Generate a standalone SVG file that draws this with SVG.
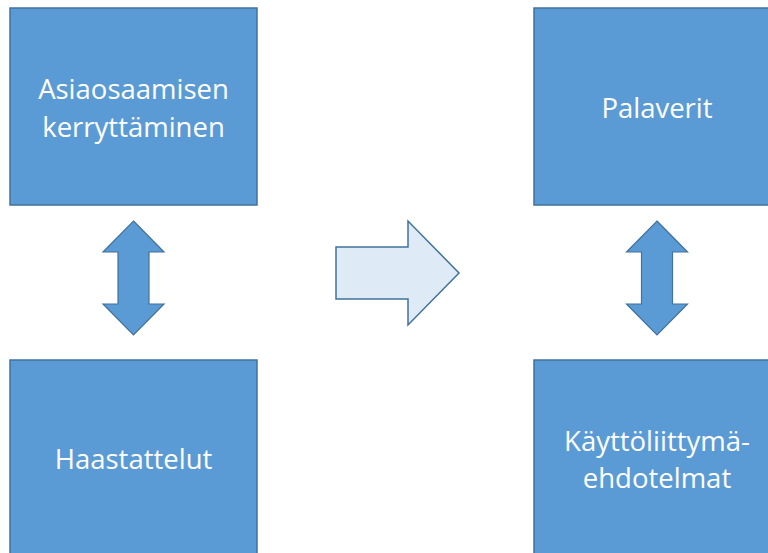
<svg xmlns="http://www.w3.org/2000/svg" width="768" height="553" viewBox="0 0 768 553">
<style>
.box{fill:#5B9BD5;stroke:#41719C;stroke-width:1.5}
.dbl{fill:#5B9BD5;stroke:#41719C;stroke-width:1.2}
.arr{fill:#DEEBF7;stroke:#41719C;stroke-width:1.5}
.t{font-family:"Open Sans","Liberation Sans",sans-serif;font-size:27.5px;fill:#fff;text-anchor:middle}
</style>
<rect width="768" height="553" fill="#fff"/>
<g id="asiaosaaminen">
<rect class="box" x="10" y="8" width="247" height="197"/>
<text class="t" x="133.5" y="99">Asiaosaamisen</text>
<text class="t" x="133.5" y="137">kerryttäminen</text>
</g>
<g id="haastattelut">
<rect class="box" x="10" y="360" width="247" height="200"/>
<text class="t" x="133.5" y="469">Haastattelut</text>
</g>
<g id="palaverit">
<rect class="box" x="534" y="8" width="247" height="197"/>
<text class="t" x="657" y="118">Palaverit</text>
</g>
<g id="kayttoliittyma">
<rect class="box" x="534" y="360" width="247" height="200"/>
<text class="t" x="657" y="451">Käyttöliittymä-</text>
<text class="t" x="657" y="488">ehdotelmat</text>
</g>
<g id="connectors">
<polygon class="dbl" points="133.5,221 164,252 149,252 149,304 164,304 133.5,335 103,304 118,304 118,252 103,252"/>
<polygon class="dbl" points="657,221 687.5,252 672.5,252 672.5,304 687.5,304 657,335 626.5,304 641.5,304 641.5,252 626.5,252"/>
<polygon class="arr" points="336,247 408,247 408,221 459,273 408,325 408,299 336,299"/>
</g>
</svg>
